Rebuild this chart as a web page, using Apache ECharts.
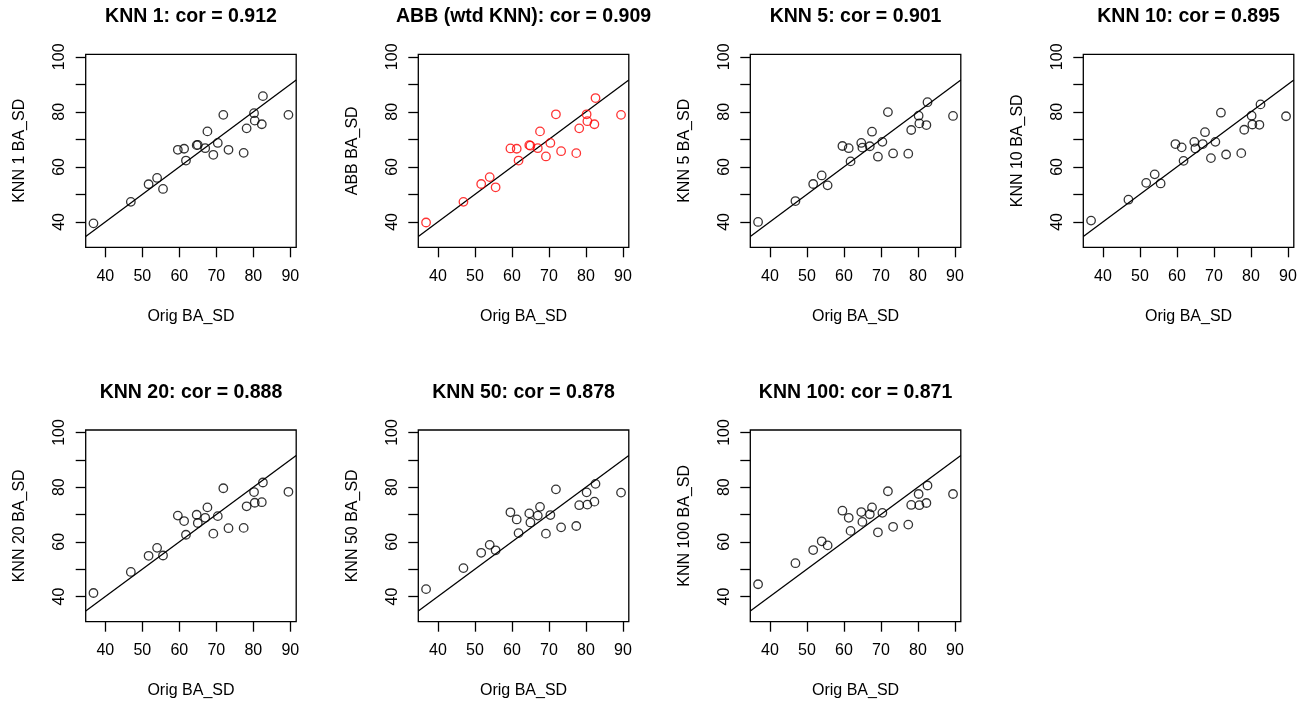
<!DOCTYPE html>
<html>
<head>
<meta charset="utf-8">
<title>BA_SD imputation comparison</title>
<script src="https://cdn.jsdelivr.net/npm/echarts@6/dist/echarts.min.js"></script>
<style>
  html, body { margin: 0; padding: 0; background: #ffffff; }
  #chart { width: 1305px; height: 705px; }
</style>
</head>
<body>
<div id="chart"></div>
<script>
// Original BA_SD values (shared x for every panel)
const origBA = [36.8, 46.9, 51.7, 54.0, 55.6, 59.6, 61.3, 61.8, 64.7, 65.0, 67.0, 67.6,
                69.2, 70.4, 71.9, 73.3, 77.4, 78.2, 80.2, 80.4, 82.3, 82.6, 89.5];

// Imputed BA_SD values for each method
const knn1   = [39.5, 47.3, 53.7, 56.0, 52.0, 66.2, 66.6, 62.3, 67.9, 68.0, 66.8, 72.9,
                64.4, 68.7, 78.9, 66.2, 65.1, 74.0, 79.5, 76.8, 75.5, 85.7, 78.9];
const abbWtd = [39.8, 47.3, 53.8, 56.3, 52.6, 66.7, 66.6, 62.3, 67.9, 67.7, 66.8, 72.9,
                63.8, 68.7, 79.1, 65.7, 65.0, 74.0, 79.1, 76.6, 75.5, 85.0, 78.9];
const knn5   = [40.0, 47.6, 53.8, 56.9, 53.3, 67.6, 66.8, 62.0, 68.7, 67.0, 67.5, 72.8,
                63.7, 69.1, 79.9, 64.9, 64.8, 73.4, 78.6, 75.8, 75.2, 83.5, 78.5];
const knn10  = [40.5, 48.1, 54.2, 57.3, 54.0, 68.3, 67.1, 62.2, 69.1, 66.7, 68.3, 72.6,
                63.2, 69.1, 79.7, 64.5, 65.0, 73.5, 78.6, 75.4, 75.3, 82.7, 78.4];
const knn20  = [41.3, 49.0, 54.9, 57.8, 55.0, 69.6, 67.6, 62.6, 69.9, 66.9, 68.8, 72.6,
                63.0, 69.4, 79.6, 65.0, 65.1, 73.0, 78.2, 74.3, 74.5, 81.7, 78.3];
const knn50  = [42.7, 50.4, 56.0, 58.9, 56.9, 70.8, 68.2, 63.2, 70.4, 67.1, 69.6, 72.8,
                63.0, 69.8, 79.2, 65.3, 65.8, 73.4, 78.1, 73.6, 74.7, 81.2, 78.0];
const knn100 = [44.5, 52.2, 57.0, 60.2, 58.7, 71.4, 68.8, 64.0, 70.9, 67.3, 70.1, 72.6,
                63.5, 70.6, 78.5, 65.5, 66.3, 73.5, 77.5, 73.4, 74.2, 80.6, 77.5];

const panelNames = ['KNN 1', 'ABB (wtd KNN)', 'KNN 5', 'KNN 10', 'KNN 20', 'KNN 50', 'KNN 100'];
const yAxisNames = ['KNN 1 BA_SD', 'ABB BA_SD', 'KNN 5 BA_SD', 'KNN 10 BA_SD',
                    'KNN 20 BA_SD', 'KNN 50 BA_SD', 'KNN 100 BA_SD'];
const corValues  = ['0.912', '0.909', '0.901', '0.895', '0.888', '0.878', '0.871'];
const panelSeries = [knn1, abbWtd, knn5, knn10, knn20, knn50, knn100];
const pointColors = ['#000000', '#ff0000', '#000000', '#000000', '#000000', '#000000', '#000000'];

// Tick values and labels
const xTicks  = [40, 50, 60, 70, 80, 90];
const yTicks  = [40, 50, 60, 70, 80, 90, 100];
const yLabels = [40, 60, 80, 100];
const xName = 'Orig BA_SD';

// Axis ranges
const X_MIN = 34.7, X_MAX = 91.6;
const Y_MIN = 30.8, Y_MAX = 100.9;

// Panel placement (2 x 4 layout, last cell empty)
const colLeft = [85.7, 418.3, 750.3, 1083.3];
const rowTop = [54.3, 430];
const boxW = 210.5;
const boxH = [193, 191.7];

const FONT = 'Liberation Sans, Arial, Helvetica, sans-serif';

const grids = [], xAxes = [], yAxes = [], series = [], titles = [];

panelSeries.forEach((vals, i) => {
  const r = Math.floor(i / 4), c = i % 4;
  grids.push({
    left: colLeft[c], top: rowTop[r], width: boxW, height: boxH[r],
    show: true, borderColor: '#000', borderWidth: 1.3, backgroundColor: 'transparent',
    containLabel: false
  });
  titles.push({
    text: panelNames[i] + ': cor = ' + corValues[i],
    left: colLeft[c] + boxW / 2, top: rowTop[r] - 47.5,
    textAlign: 'center', padding: 0,
    textStyle: { fontFamily: FONT, fontWeight: 'bold', fontSize: 19.5, color: '#000' }
  });
  xAxes.push({
    gridIndex: i, type: 'value', min: X_MIN, max: X_MAX,
    name: xName, nameLocation: 'middle', nameGap: 61,
    nameTextStyle: { fontFamily: FONT, fontSize: 16, color: '#000' },
    axisLine: { show: false },
    splitLine: { show: false },
    axisTick: { show: true, inside: false, length: 10, customValues: xTicks,
                lineStyle: { color: '#000', width: 1.3 } },
    axisLabel: { show: true, margin: 21, customValues: xTicks,
                 fontFamily: FONT, fontSize: 16, color: '#000' }
  });
  yAxes.push({
    gridIndex: i, type: 'value', min: Y_MIN, max: Y_MAX,
    name: yAxisNames[i], nameLocation: 'middle', nameGap: 58, nameRotate: 90,
    nameTextStyle: { fontFamily: FONT, fontSize: 16, color: '#000' },
    axisLine: { show: false },
    splitLine: { show: false },
    axisTick: { show: true, inside: false, length: 10, customValues: yTicks,
                lineStyle: { color: '#000', width: 1.3 } },
    axisLabel: { show: true, margin: 18, rotate: 90, customValues: yLabels,
                 fontFamily: FONT, fontSize: 16, color: '#000' }
  });
  // identity reference line y = x
  series.push({
    type: 'line', xAxisIndex: i, yAxisIndex: i,
    data: [[X_MIN, X_MIN], [X_MAX, X_MAX]],
    showSymbol: false, symbol: 'none', silent: true, clip: true,
    lineStyle: { color: '#000', width: 1.3 }, z: 2
  });
  series.push({
    type: 'scatter', xAxisIndex: i, yAxisIndex: i,
    data: origBA.map((x, k) => [x, vals[k]]),
    symbol: 'circle', symbolSize: 8.5,
    itemStyle: { color: 'rgba(0,0,0,0)', borderColor: pointColors[i], borderWidth: 1.3 },
    emphasis: { disabled: true }, z: 3
  });
});

const chart = echarts.init(document.getElementById('chart'), null, { renderer: 'canvas' });
chart.setOption({
  animation: false,
  backgroundColor: '#ffffff',
  title: titles,
  grid: grids,
  xAxis: xAxes,
  yAxis: yAxes,
  series: series
});
</script>
</body>
</html>
